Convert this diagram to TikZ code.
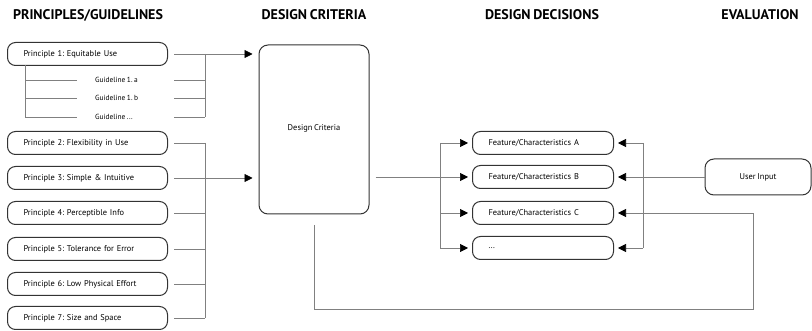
\documentclass[tikz,border=0pt]{standalone}
\usepackage{fontspec}
\setmainfont[WordSpace=0.8]{PT Sans}
\usetikzlibrary{arrows.meta}
\frenchspacing
\begin{document}
\begin{tikzpicture}[x=1pt,y=-1pt,
  head/.style={font=\fontsize{14}{16}\selectfont\bfseries, inner sep=0pt},
  pbox/.style={draw=black!80, line width=1pt, rounded corners=8pt, minimum height=23pt, text width=128pt, inner xsep=16pt, inner ysep=0pt, align=left, font=\fontsize{8.4}{9}\selectfont, anchor=west},
  fbox/.style={pbox, text width=109pt},
  gtext/.style={font=\fontsize{7.4}{8}\selectfont, inner sep=0pt, anchor=west},
  conn/.style={draw=black!50, line width=0.7pt},
  arr/.style={conn, -{Triangle[length=8pt,width=8pt,color=black]}}
]
\useasboundingbox (0,0) rectangle (812,331);

% headings
\node[head] (h1) at (88,15) {PRINCIPLES/GUIDELINES};
\node[head] (h2) at (314,15) {DESIGN CRITERIA};
\node[head] (h3) at (542,15) {DESIGN DECISIONS};
\node[head] (h4) at (760,15) {EVALUATION};

% principles
\node[pbox] (p1) at (7,54) {Principle 1: Equitable Use};
\node[gtext] (g1) at (95,80) {Guideline 1. a};
\node[gtext] (g2) at (95,98) {Guideline 1. b};
\node[gtext] (g3) at (95,117) {Guideline ...};
\node[pbox] (p2) at (7,143) {Principle 2: Flexibility in Use};
\node[pbox] (p3) at (7,178) {Principle 3: Simple \& Intuitive};
\node[pbox] (p4) at (7,213) {Principle 4: Perceptible Info};
\node[pbox] (p5) at (7,249) {Principle 5: Tolerance for Error};
\node[pbox] (p6) at (7,284) {Principle 6: Low Physical Effort};
\node[pbox] (p7) at (7,318) {Principle 7: Size and Space};

% design criteria
\node[draw=black!80, line width=1pt, rounded corners=9pt, minimum width=110pt, minimum height=169pt, inner sep=0pt] (dc) at (314,129.5) {};
\node[font=\fontsize{8.4}{9}\selectfont, inner sep=0pt] (dct) at (314,128) {Design Criteria};

% features
\node[fbox] (fa) at (472,143) {Feature/Characteristics A};
\node[fbox] (fb) at (472,177) {Feature/Characteristics B};
\node[fbox] (fc) at (472,213) {Feature/Characteristics C};
\node[fbox] (fd) at (472,248) {...};

% user input
\node[draw=black!80, line width=1pt, rounded corners=9pt, minimum width=106pt, minimum height=36pt, inner sep=0pt, font=\fontsize{8.4}{9}\selectfont] (ui) at (758,177) {User Input};

% coordinates
\coordinate (gx) at (25,65);
\coordinate (bx) at (205,54);
\coordinate (lx) at (440,143);
\coordinate (rx) at (643,143);
\coordinate (fbs) at (314,225);
\coordinate (fbb) at (314,309);
\coordinate (fbr) at (753,309);

% principle 1 and guidelines
\draw[arr, shorten <=6pt, shorten >=6pt] (p1.east) -- (p1.east -| dc.west);
\draw[conn] (gx) -- (gx |- g3);
\foreach \g in {g1,g2,g3}{
  \draw[conn] (gx |- \g) -- ([xshift=-18pt]\g.west);
  \draw[conn] ([xshift=6pt]p1.east |- \g) -- (bx |- \g);
}
\draw[conn] (bx) -- (bx |- g3);

% principles 2-7
\draw[conn] (bx |- p2) -- (bx |- p7);
\foreach \p in {p2,p4,p5,p6,p7}{
  \draw[conn, shorten <=6pt] (\p.east) -- (bx |- \p);
}
\draw[arr, shorten <=6pt, shorten >=6pt] (p3.east) -- (p3.east -| dc.west);

% design criteria to features
\draw[arr, shorten <=6pt, shorten >=4pt] (dc.east |- fb) -- (fb.west);
\draw[conn] (lx) -- (lx |- fd);
\foreach \f in {fa,fc,fd}{
  \draw[arr, shorten >=4pt] (lx |- \f) -- (\f.west);
}

% evaluation side
\draw[conn] (rx) -- (rx |- fd);
\foreach \f in {fa,fd}{
  \draw[arr, shorten >=4pt] (rx |- \f) -- (\f.east);
}
\draw[arr, shorten >=4pt] (ui.west) -- (fb.east);
\draw[arr, shorten >=4pt] (fbs) -- (fbb) -- (fbr) -- (fbr |- fc) -- (fc.east);
\end{tikzpicture}
\end{document}
